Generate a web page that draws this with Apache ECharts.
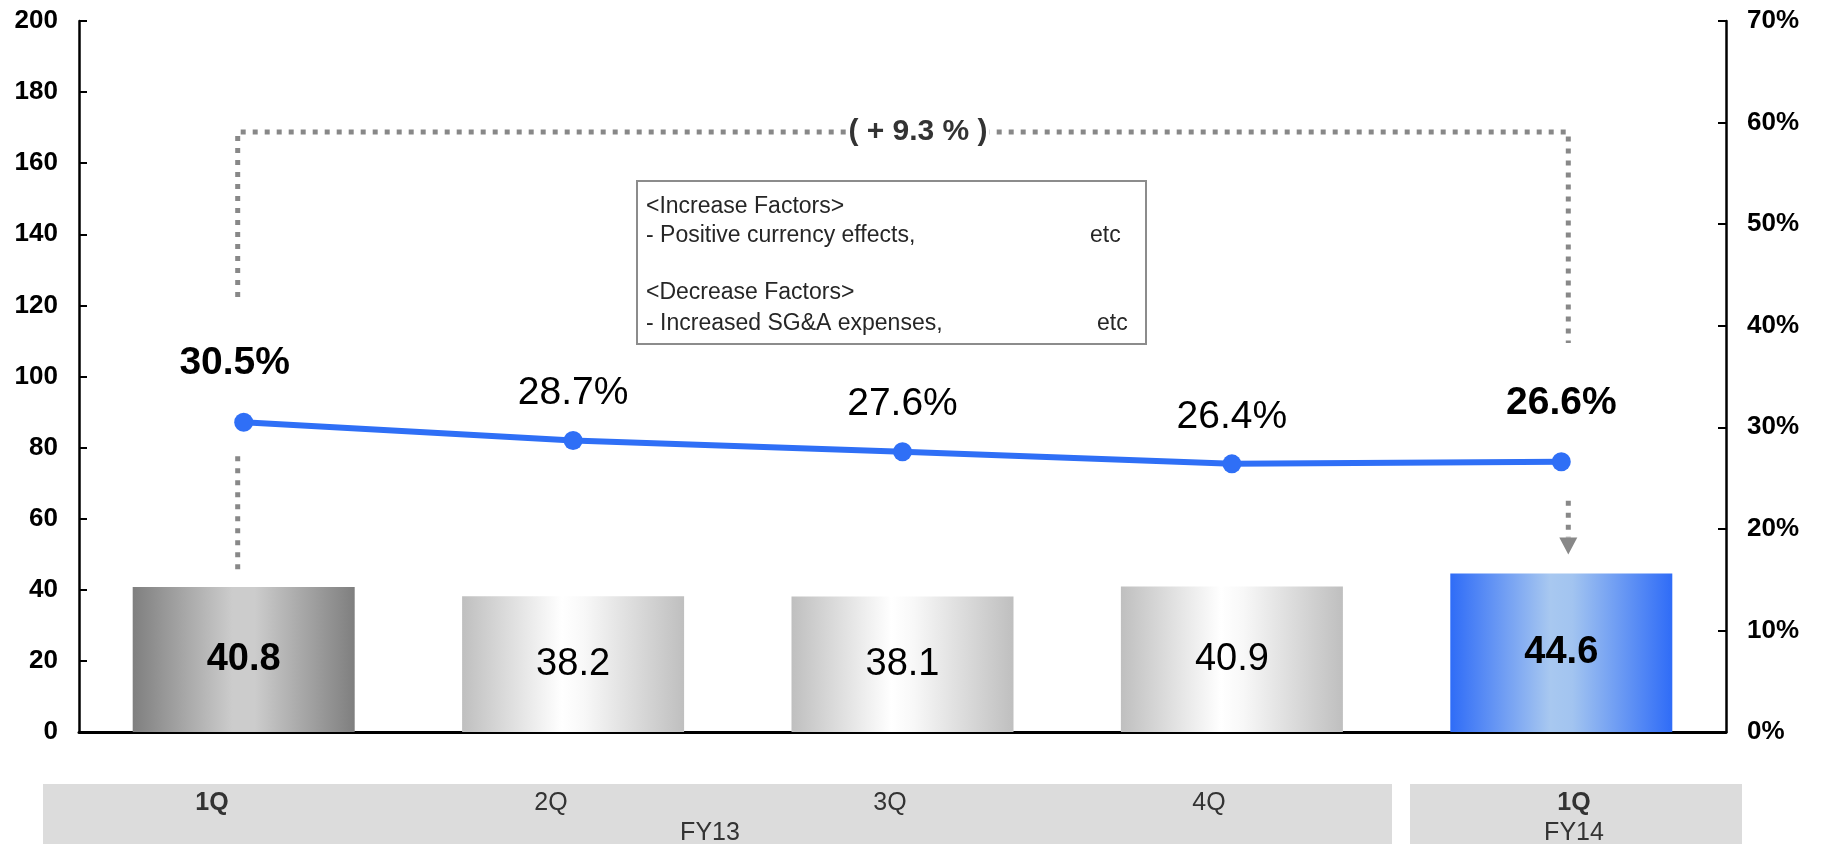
<!DOCTYPE html>
<html><head><meta charset="utf-8">
<script src="https://cdn.jsdelivr.net/npm/echarts@6/dist/echarts.min.js"></script>
<style>html,body{margin:0;padding:0;background:#fff}#c{width:1823px;height:844px}</style>
</head><body><div id="c"></div>
<script>
// ---- data ----
const categories = ['FY13 1Q', 'FY13 2Q', 'FY13 3Q', 'FY13 4Q', 'FY14 1Q'];
const quarterLabels = ['1Q', '2Q', '3Q', '4Q', '1Q'];
const fiscalYears = ['FY13', 'FY14'];
const salesValues = [40.8, 38.2, 38.1, 40.9, 44.6];
const marginValues = [30.5, 28.7, 27.6, 26.4, 26.6];
const leftAxisMin = 0, leftAxisMax = 200, leftAxisStep = 20;
const rightAxisMin = 0, rightAxisMax = 70, rightAxisStep = 10;
const highlighted = [true, false, false, false, true];
const changeLabel = '( + 9.3 % )';
const increaseTitle = '<Increase Factors>';
const increaseItem = '- Positive currency effects,';
const decreaseTitle = '<Decrease Factors>';
const decreaseItem = '- Increased SG&A expenses,';
const etcText = 'etc';

// ---- styles ----
const FONT = '"Liberation Sans", Arial, Helvetica, sans-serif';
const LINE_COLOR = '#2F6FF6';
const DOT_COLOR = '#888888';
const barStops = [
  ['#7F7F7F', '#CCCCCC', '#CCCCCC', '#7F7F7F'],
  ['#BFBFBF', '#FFFFFF', '#F8F8F8', '#BFBFBF'],
  ['#BFBFBF', '#FFFFFF', '#F8F8F8', '#BFBFBF'],
  ['#BFBFBF', '#FFFFFF', '#F8F8F8', '#BFBFBF'],
  ['#2F6CF7', '#A8C8F0', '#A2C4F0', '#2F6CF7']
];
function grad(s) {
  return new echarts.graphic.LinearGradient(0, 0, 1, 0, [
    { offset: 0, color: s[0] }, { offset: 0.45, color: s[1] },
    { offset: 0.55, color: s[2] }, { offset: 1, color: s[3] }
  ]);
}

const chart = echarts.init(document.getElementById('c'));

const barData = salesValues.map((v, i) => ({
  value: v,
  itemStyle: { color: grad(barStops[i]) },
  label: { fontWeight: highlighted[i] ? 'bold' : 'normal' }
}));
const lineData = marginValues.map((v, i) => ({
  value: v,
  label: {
    fontWeight: highlighted[i] ? 'bold' : 'normal',
    distance: highlighted[i] ? 30 : 18,
    offset: i === 0 ? [-9, 0] : [0, 0]
  }
}));

const option = {
  animation: false,
  backgroundColor: '#ffffff',
  grid: { left: 79, right: 97, top: 21, bottom: 112, containLabel: false },
  xAxis: {
    type: 'category', data: categories,
    axisLine: { lineStyle: { color: '#000', width: 3 } },
    axisTick: { show: false }, axisLabel: { show: false }
  },
  yAxis: [
    {
      type: 'value', min: leftAxisMin, max: leftAxisMax, interval: leftAxisStep,
      axisLine: { show: true, lineStyle: { color: '#000', width: 2.5 } },
      axisTick: { show: true, inside: true, length: 8, lineStyle: { color: '#000', width: 2 } },
      axisLabel: { margin: 21, color: '#000', fontFamily: FONT, fontWeight: 'bold', fontSize: 26 },
      splitLine: { show: false }
    },
    {
      type: 'value', min: rightAxisMin, max: rightAxisMax, interval: rightAxisStep, position: 'right',
      axisLine: { show: true, lineStyle: { color: '#000', width: 2.5 } },
      axisTick: { show: true, inside: true, length: 8, lineStyle: { color: '#000', width: 2 } },
      axisLabel: { margin: 21, color: '#000', fontFamily: FONT, fontWeight: 'bold', fontSize: 26,
        formatter: '{value}%' },
      splitLine: { show: false }
    }
  ],
  series: [
    {
      type: 'bar', yAxisIndex: 0, data: barData, barWidth: 222, z: 2,
      label: { show: true, position: 'inside', color: '#000', fontSize: 38, fontFamily: FONT }
    },
    {
      type: 'line', yAxisIndex: 1, data: lineData, z: 5,
      symbol: 'circle', symbolSize: 19,
      lineStyle: { color: LINE_COLOR, width: 6 },
      itemStyle: { color: LINE_COLOR },
      label: { show: true, position: 'top', color: '#000', fontSize: 39, fontFamily: FONT,
        formatter: p => p.value.toFixed(1) + '%' }
    }
  ]
};
chart.setOption(option);

// ---- annotations (bracket, note box, category bands) ----
const pt = i => chart.convertToPixel({ seriesIndex: 1 }, [i, marginValues[i]]);
const barTop = i => chart.convertToPixel({ seriesIndex: 0 }, [i, salesValues[i]]);
const p0 = pt(0), p4 = pt(4), b0 = barTop(0), b4 = barTop(4);
const leftX = p0[0] - 6, rightX = p4[0] + 7, topY = 132;
const dotStyle = { stroke: DOT_COLOR, lineWidth: 5, lineDash: [5, 7], fill: null };
const g = [];
g.push({ type: 'polyline', z: 10, shape: { points: [[leftX, 297], [leftX, topY], [rightX, topY], [rightX, 343]] }, style: dotStyle });
g.push({ type: 'line', z: 10, shape: { x1: leftX, y1: p0[1] + 34, x2: leftX, y2: b0[1] - 17 }, style: dotStyle });
g.push({ type: 'line', z: 10, shape: { x1: rightX, y1: p4[1] + 39, x2: rightX, y2: b4[1] - 36 }, style: dotStyle });
g.push({ type: 'polygon', z: 10, shape: { points: [[rightX - 9, b4[1] - 36], [rightX + 9, b4[1] - 36], [rightX, b4[1] - 19]] }, style: { fill: DOT_COLOR } });
g.push({ type: 'text', z: 11, x: 918, y: topY, style: {
  text: changeLabel, fill: '#333', font: 'bold 30px ' + FONT, align: 'center', verticalAlign: 'middle',
  backgroundColor: '#fff', padding: [0, 2] } });
// note box
g.push({ type: 'rect', z: 10, shape: { x: 637, y: 181, width: 509, height: 163 }, style: { fill: '#fff', stroke: '#8C8C8C', lineWidth: 2 } });
const noteRows = [[increaseTitle, 207], [increaseItem, 236], [decreaseTitle, 293], [decreaseItem, 324]];
noteRows.forEach(r => g.push({ type: 'text', z: 11, x: 646, y: r[1], style: { text: r[0], fill: '#262626', font: '23px ' + FONT, verticalAlign: 'middle' } }));
g.push({ type: 'text', z: 11, x: 1090, y: 236, style: { text: etcText, fill: '#262626', font: '23px ' + FONT, verticalAlign: 'middle' } });
g.push({ type: 'text', z: 11, x: 1097, y: 324, style: { text: etcText, fill: '#262626', font: '23px ' + FONT, verticalAlign: 'middle' } });
// category bands
g.push({ type: 'rect', z: 1, shape: { x: 43, y: 784, width: 1349, height: 70 }, style: { fill: '#DCDCDC' } });
g.push({ type: 'rect', z: 1, shape: { x: 1410, y: 784, width: 332, height: 70 }, style: { fill: '#DCDCDC' } });
const qx = [212, 551, 890, 1209, 1574];
quarterLabels.forEach((q, i) => g.push({ type: 'text', z: 2, x: qx[i], y: 803, style: {
  text: q, fill: '#333', font: (highlighted[i] ? 'bold ' : '') + '25px ' + FONT, align: 'center', verticalAlign: 'middle' } }));
const fx = [710, 1574];
fiscalYears.forEach((f, i) => g.push({ type: 'text', z: 2, x: fx[i], y: 833, style: {
  text: f, fill: '#333', font: '25px ' + FONT, align: 'center', verticalAlign: 'middle' } }));
chart.setOption({ graphic: g });
</script>
</body></html>
